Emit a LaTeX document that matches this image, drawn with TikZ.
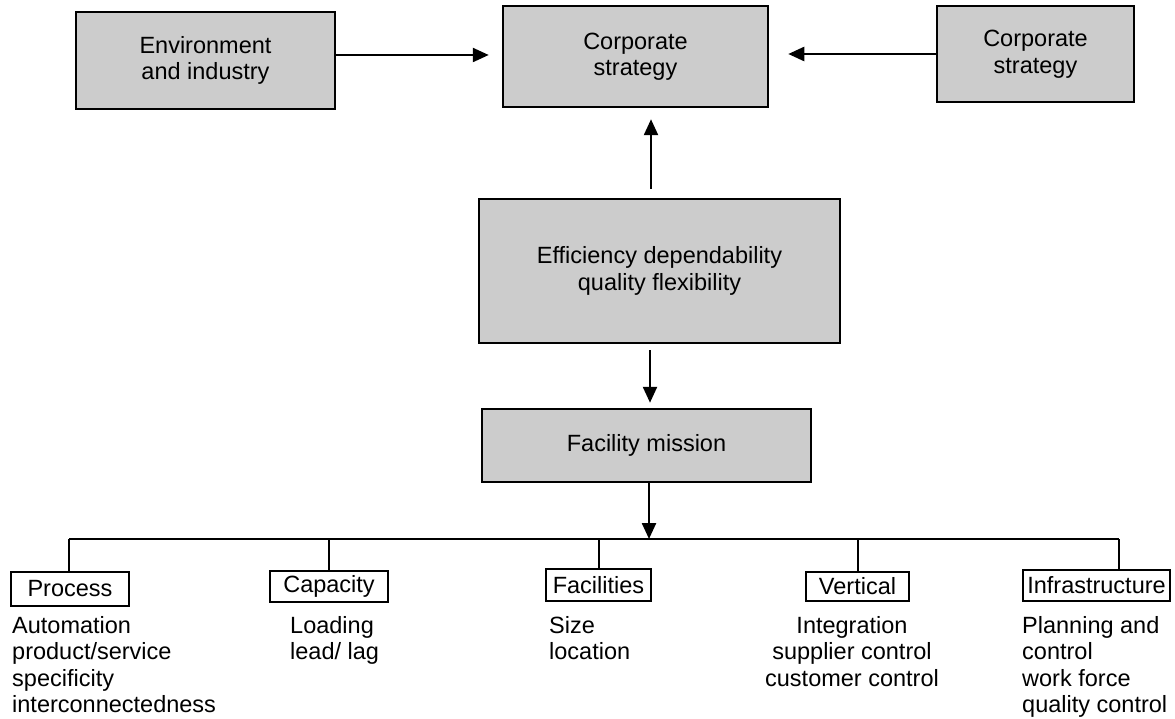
\documentclass[tikz,border=0pt]{standalone}
\usepackage{fontspec}
\setmainfont{Liberation Sans}
\usetikzlibrary{arrows.meta}

\begin{document}
\begin{tikzpicture}[x=1pt,y=-1pt,
    every node/.style={font=\fontsize{23.5}{26.5}\selectfont},
    box/.style={draw, line width=2.5pt, fill=black!20, align=center, inner sep=0pt},
    tag/.style={draw, line width=2.2pt, fill=white, inner sep=0pt},
    desc/.style={inner sep=0pt, align=left},
    link/.style={line width=2.4pt},
    arr/.style={line width=2.4pt, -{Triangle[length=16pt,width=14pt]}}]
    \useasboundingbox (0,0) rectangle (1175,719);

    % Top row
    \node[box, minimum width=259pt, minimum height=97pt]  (E) at (205.5,60.5) {Environment\\and industry};
    \node[box, minimum width=265pt, minimum height=101pt] (S) at (635.5,56.5) {Corporate\\strategy};
    \node[box, minimum width=197pt, minimum height=96pt]  (R) at (1035.5,54)  {Corporate\\strategy};

    % Middle column
    \node[box, minimum width=361pt, minimum height=144pt] (Q) at (659.5,271)  {Efficiency dependability\\quality flexibility};
    \node[box, minimum width=329pt, minimum height=73pt]  (M) at (646.5,445.5) {Facility mission};

    % Branch point
    \coordinate (bus) at (649,539);

    % Bottom tags
    \node[tag, minimum width=118pt, minimum height=34pt] (P) at (70,589)      {Process};
    \node[tag, minimum width=118pt, minimum height=31pt] (C) at (329,586.5)   {Capacity};
    \node[tag, minimum width=105pt, minimum height=32pt] (F) at (598.5,585)   {Facilities};
    \node[tag, minimum width=103pt, minimum height=29pt] (V) at (857.5,586.5) {Vertical};
    \node[tag, minimum width=147pt, minimum height=31pt] (I) at (1096.5,585.5) {Infrastructure};

    % Descriptions
    \node[desc, anchor=north west] (Pd) at (12,616)   {Automation\\product/service\\specificity\\interconnectedness};
    \node[desc, anchor=north west] (Cd) at (290,616)  {Loading\\lead/ lag};
    \node[desc, anchor=north west] (Fd) at (549,616)  {Size\\location};
    \node[desc, align=center, anchor=north] (Vd) at (852,616) {Integration\\supplier control\\customer control};
    \node[desc, anchor=north west] (Id) at (1022,616) {Planning and\\control\\work force\\quality control};

    % Arrows into corporate strategy
    \draw[arr, shorten >=13pt] ([yshift=5.5pt]E.east) -- ([yshift=5.5pt]E.east -| S.west);
    \draw[arr, shorten >=19pt] (R.west) -- (R.west -| S.east);
    \draw[arr, shorten <=9pt, shorten >=11pt] ([xshift=-8.5pt]Q.north) -- ([xshift=-8.5pt]Q.north |- S.south);

    % Arrows down
    \draw[arr, shorten <=6pt, shorten >=5pt] ([xshift=-9.5pt]Q.south) -- ([xshift=-9.5pt]Q.south |- M.north);
    \draw[arr] (M.south -| bus) -- (bus);

    % Branches
    \draw[link] ([xshift=-1pt]P.north |- bus) -- ([xshift=22.5pt]I.north |- bus);
    \foreach \n/\dx in {P/-1,C/0,F/0.5,V/0.5,I/22.5}
        \draw[link] ([xshift=\dx pt]\n.north) -- ([xshift=\dx pt]\n.north |- bus);

\end{tikzpicture}
\end{document}
